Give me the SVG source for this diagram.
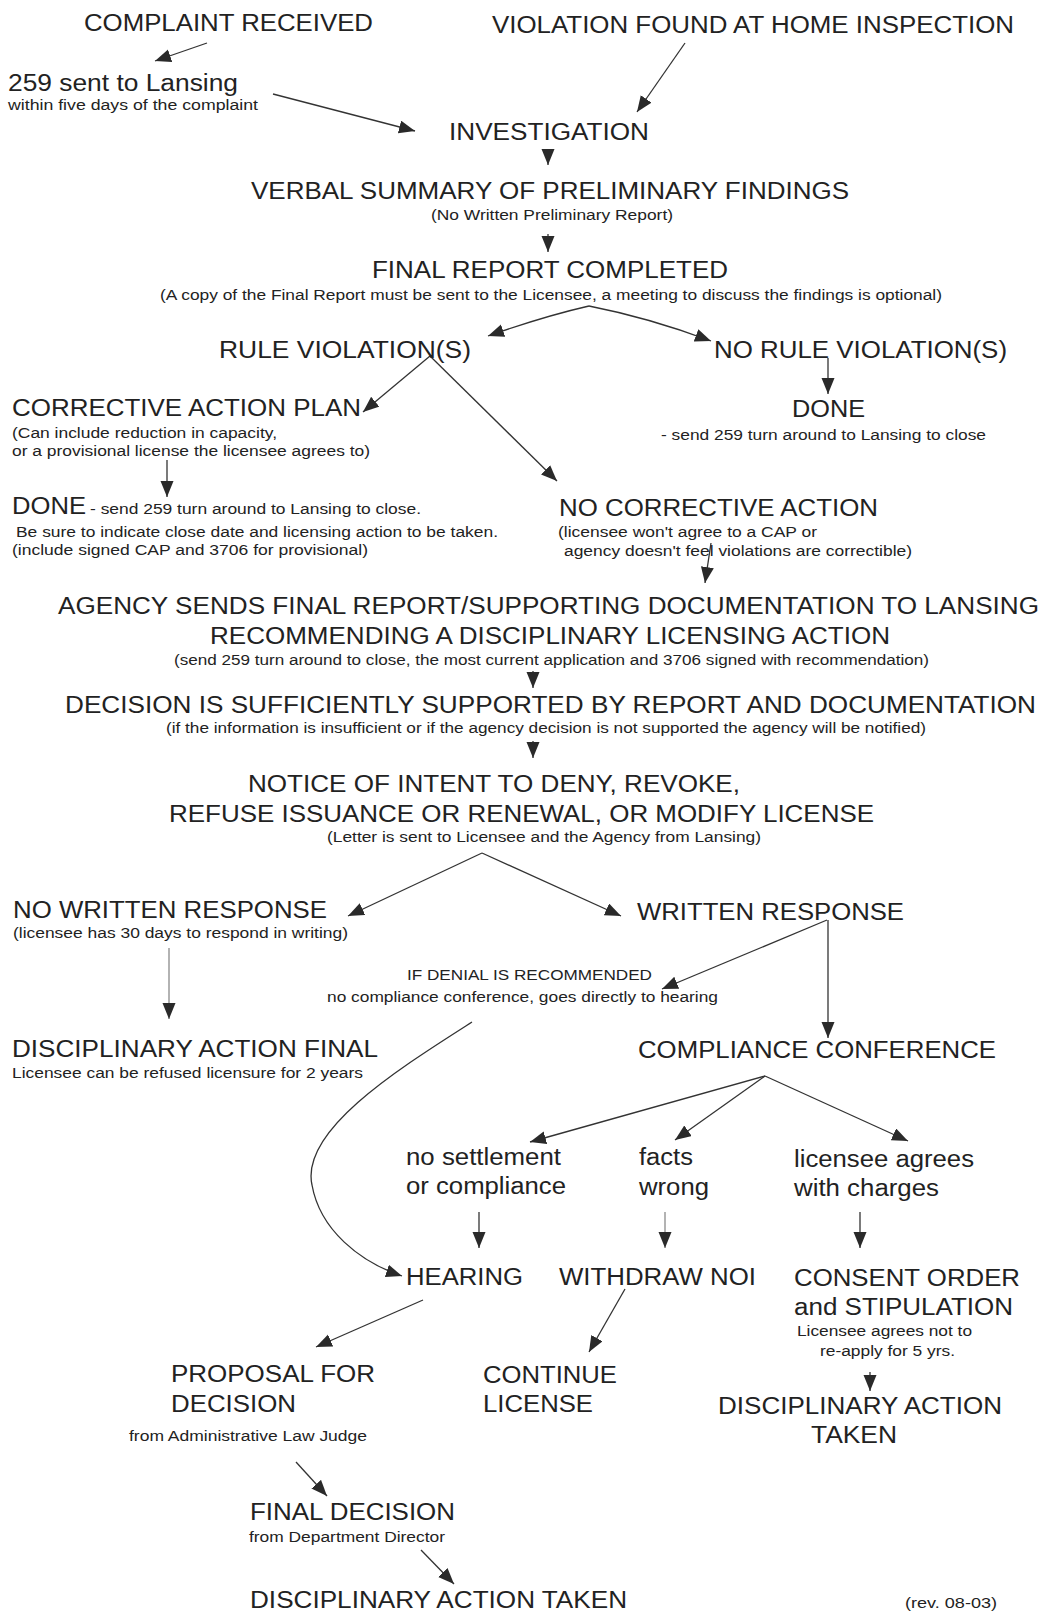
<svg xmlns="http://www.w3.org/2000/svg" width="1044" height="1613" viewBox="0 0 1044 1613">
<style>
text{font-family:"Liberation Sans",Arial,Helvetica,sans-serif;fill:#222}
.h{font-size:23.5px}
.s{font-size:15.5px}
.xs{font-size:14px}
.c line,.c path{stroke:#333;stroke-width:1.3;fill:none}
.c .g{stroke:#8a8a8a}
</style>
<defs>
<marker id="ah" markerUnits="userSpaceOnUse" markerWidth="18" markerHeight="14" refX="16" refY="6.5" orient="auto"><path d="M0,0 L16,6.5 L0,13 z" fill="#2a2a2a"/></marker>
</defs>
<rect width="1044" height="1613" fill="#fff"/>
<g class="c" id="connectors">
<line x1="207" y1="43" x2="155" y2="61" marker-end="url(#ah)"/>
<line x1="273" y1="94" x2="415" y2="131" marker-end="url(#ah)"/>
<line x1="685" y1="43" x2="637" y2="112" marker-end="url(#ah)"/>
<line x1="548" y1="149" x2="548" y2="165" marker-end="url(#ah)"/>
<line x1="548" y1="234" x2="548" y2="252" marker-end="url(#ah)"/>
<path d="M589,306 Q545,316 488,336" marker-end="url(#ah)"/>
<path d="M589,306 Q650,318 711,341" marker-end="url(#ah)"/>
<line x1="430" y1="356" x2="363" y2="412" marker-end="url(#ah)"/>
<line x1="430" y1="356" x2="557" y2="481" marker-end="url(#ah)"/>
<line x1="828" y1="358" x2="828" y2="394" marker-end="url(#ah)"/>
<line x1="167" y1="460" x2="167" y2="497" marker-end="url(#ah)"/>
<line x1="711" y1="543" x2="705" y2="583" marker-end="url(#ah)"/>
<line x1="533" y1="671" x2="533" y2="688" marker-end="url(#ah)"/>
<line x1="533" y1="741" x2="533" y2="758" marker-end="url(#ah)"/>
<line x1="482" y1="853" x2="348" y2="916" marker-end="url(#ah)"/>
<line x1="482" y1="853" x2="621" y2="916" marker-end="url(#ah)"/>
<line class="g" x1="169" y1="948" x2="169" y2="1019" marker-end="url(#ah)"/>
<line x1="827" y1="920" x2="662" y2="989" marker-end="url(#ah)"/>
<line x1="828" y1="920" x2="828" y2="1038" marker-end="url(#ah)"/>
<path d="M472,1022 C400,1068 300,1130 312,1185 C320,1230 360,1262 402,1276" marker-end="url(#ah)"/>
<line x1="765" y1="1076" x2="530" y2="1142" marker-end="url(#ah)"/>
<line x1="765" y1="1076" x2="675" y2="1140" marker-end="url(#ah)"/>
<line x1="765" y1="1076" x2="908" y2="1141" marker-end="url(#ah)"/>
<line x1="479" y1="1212" x2="479" y2="1248" marker-end="url(#ah)"/>
<line class="g" x1="665" y1="1212" x2="665" y2="1248" marker-end="url(#ah)"/>
<line x1="860" y1="1212" x2="860" y2="1248" marker-end="url(#ah)"/>
<line x1="423" y1="1300" x2="316" y2="1347" marker-end="url(#ah)"/>
<line x1="625" y1="1289" x2="589" y2="1352" marker-end="url(#ah)"/>
<line x1="870" y1="1372" x2="870" y2="1391" marker-end="url(#ah)"/>
<line x1="296" y1="1462" x2="327" y2="1496" marker-end="url(#ah)"/>
<line x1="421" y1="1550" x2="454" y2="1584" marker-end="url(#ah)"/>
</g>
<g id="n-complaint"><text class="h" x="84" y="31" textLength="289" lengthAdjust="spacingAndGlyphs">COMPLAINT RECEIVED</text></g>
<g id="n-violation"><text class="h" x="492" y="33" textLength="522" lengthAdjust="spacingAndGlyphs">VIOLATION FOUND AT HOME INSPECTION</text></g>
<g id="n-259"><text class="h" x="8" y="91" textLength="230" lengthAdjust="spacingAndGlyphs">259 sent to Lansing</text><text class="xs" x="8" y="110" textLength="250" lengthAdjust="spacingAndGlyphs">within five days of the complaint</text></g>
<g id="n-investigation"><text class="h" x="449" y="140" textLength="200" lengthAdjust="spacingAndGlyphs">INVESTIGATION</text></g>
<g id="n-verbal"><text class="h" x="251" y="199" textLength="598" lengthAdjust="spacingAndGlyphs">VERBAL SUMMARY OF PRELIMINARY FINDINGS</text><text class="xs" x="431" y="220" textLength="242" lengthAdjust="spacingAndGlyphs">(No Written Preliminary Report)</text></g>
<g id="n-final-report"><text class="h" x="372" y="278" textLength="356" lengthAdjust="spacingAndGlyphs">FINAL REPORT COMPLETED</text><text class="xs" x="160" y="300" textLength="782" lengthAdjust="spacingAndGlyphs">(A copy of the Final Report must be sent to the Licensee, a meeting to discuss the findings is optional)</text></g>
<g id="n-rule"><text class="h" x="219" y="358" textLength="252" lengthAdjust="spacingAndGlyphs">RULE VIOLATION(S)</text></g>
<g id="n-norule"><text class="h" x="714" y="358" textLength="293" lengthAdjust="spacingAndGlyphs">NO RULE VIOLATION(S)</text></g>
<g id="n-done-right"><text class="h" x="792" y="417" textLength="73" lengthAdjust="spacingAndGlyphs">DONE</text><text class="s" x="661" y="440" textLength="325" lengthAdjust="spacingAndGlyphs">- send 259 turn around to Lansing to close</text></g>
<g id="n-cap"><text class="h" x="12" y="416" textLength="349" lengthAdjust="spacingAndGlyphs">CORRECTIVE ACTION PLAN</text><text class="s" x="12" y="438" textLength="265" lengthAdjust="spacingAndGlyphs">(Can include reduction in capacity,</text><text class="s" x="12" y="456" textLength="358" lengthAdjust="spacingAndGlyphs">or a provisional license the licensee agrees to)</text></g>
<g id="n-done-left"><text class="h" x="12" y="514" textLength="74" lengthAdjust="spacingAndGlyphs">DONE</text><text class="s" x="90" y="514" textLength="331" lengthAdjust="spacingAndGlyphs">- send 259 turn around to Lansing to close.</text><text class="s" x="16" y="537" textLength="482" lengthAdjust="spacingAndGlyphs">Be sure to indicate close date and licensing action to be taken.</text><text class="s" x="12" y="555" textLength="356" lengthAdjust="spacingAndGlyphs">(include signed CAP and 3706 for provisional)</text></g>
<g id="n-nocap"><text class="h" x="559" y="516" textLength="319" lengthAdjust="spacingAndGlyphs">NO CORRECTIVE ACTION</text><text class="s" x="558" y="537" textLength="259" lengthAdjust="spacingAndGlyphs">(licensee won't agree to a CAP or</text><text class="s" x="564" y="556" textLength="348" lengthAdjust="spacingAndGlyphs">agency doesn't feel violations are correctible)</text></g>
<g id="n-agency"><text class="h" x="58" y="614" textLength="981" lengthAdjust="spacingAndGlyphs">AGENCY SENDS FINAL REPORT/SUPPORTING DOCUMENTATION TO LANSING</text><text class="h" x="210" y="644" textLength="680" lengthAdjust="spacingAndGlyphs">RECOMMENDING A DISCIPLINARY LICENSING ACTION</text><text class="xs" x="174" y="665" textLength="755" lengthAdjust="spacingAndGlyphs">(send 259 turn around to close, the most current application and 3706 signed with recommendation)</text></g>
<g id="n-decision"><text class="h" x="65" y="713" textLength="971" lengthAdjust="spacingAndGlyphs">DECISION IS SUFFICIENTLY SUPPORTED BY REPORT AND DOCUMENTATION</text><text class="xs" x="166" y="733" textLength="760" lengthAdjust="spacingAndGlyphs">(if the information is insufficient or if the agency decision is not supported the agency will be notified)</text></g>
<g id="n-notice"><text class="h" x="248" y="792" textLength="492" lengthAdjust="spacingAndGlyphs">NOTICE OF INTENT TO DENY, REVOKE,</text><text class="h" x="169" y="822" textLength="705" lengthAdjust="spacingAndGlyphs">REFUSE ISSUANCE OR RENEWAL, OR MODIFY LICENSE</text><text class="xs" x="327" y="842" textLength="434" lengthAdjust="spacingAndGlyphs">(Letter is sent to Licensee and the Agency from Lansing)</text></g>
<g id="n-nowritten"><text class="h" x="13" y="918" textLength="314" lengthAdjust="spacingAndGlyphs">NO WRITTEN RESPONSE</text><text class="s" x="13" y="938" textLength="335" lengthAdjust="spacingAndGlyphs">(licensee has 30 days to respond in writing)</text></g>
<g id="n-written"><text class="h" x="637" y="920" textLength="267" lengthAdjust="spacingAndGlyphs">WRITTEN RESPONSE</text></g>
<g id="n-denial"><text class="xs" x="407" y="980" textLength="245" lengthAdjust="spacingAndGlyphs">IF DENIAL IS RECOMMENDED</text><text class="xs" x="327" y="1002" textLength="391" lengthAdjust="spacingAndGlyphs">no compliance conference, goes directly to hearing</text></g>
<g id="n-action-final"><text class="h" x="12" y="1057" textLength="366" lengthAdjust="spacingAndGlyphs">DISCIPLINARY ACTION FINAL</text><text class="s" x="12" y="1078" textLength="351" lengthAdjust="spacingAndGlyphs">Licensee can be refused licensure for 2 years</text></g>
<g id="n-compliance"><text class="h" x="638" y="1058" textLength="358" lengthAdjust="spacingAndGlyphs">COMPLIANCE CONFERENCE</text></g>
<g id="n-nosettlement"><text class="h" x="406" y="1165" textLength="155" lengthAdjust="spacingAndGlyphs">no settlement</text><text class="h" x="406" y="1194" textLength="160" lengthAdjust="spacingAndGlyphs">or compliance</text></g>
<g id="n-facts"><text class="h" x="639" y="1165" textLength="54" lengthAdjust="spacingAndGlyphs">facts</text><text class="h" x="639" y="1195" textLength="70" lengthAdjust="spacingAndGlyphs">wrong</text></g>
<g id="n-agrees"><text class="h" x="794" y="1167" textLength="180" lengthAdjust="spacingAndGlyphs">licensee agrees</text><text class="h" x="794" y="1196" textLength="145" lengthAdjust="spacingAndGlyphs">with charges</text></g>
<g id="n-hearing"><text class="h" x="406" y="1285" textLength="117" lengthAdjust="spacingAndGlyphs">HEARING</text></g>
<g id="n-withdraw"><text class="h" x="559" y="1285" textLength="197" lengthAdjust="spacingAndGlyphs">WITHDRAW NOI</text></g>
<g id="n-consent"><text class="h" x="794" y="1286" textLength="226" lengthAdjust="spacingAndGlyphs">CONSENT ORDER</text><text class="h" x="794" y="1315" textLength="219" lengthAdjust="spacingAndGlyphs">and STIPULATION</text><text class="xs" x="797" y="1336" textLength="175" lengthAdjust="spacingAndGlyphs">Licensee agrees not to</text><text class="xs" x="820" y="1356" textLength="135" lengthAdjust="spacingAndGlyphs">re-apply for 5 yrs.</text></g>
<g id="n-proposal"><text class="h" x="171" y="1382" textLength="204" lengthAdjust="spacingAndGlyphs">PROPOSAL FOR</text><text class="h" x="171" y="1412" textLength="125" lengthAdjust="spacingAndGlyphs">DECISION</text><text class="xs" x="129" y="1441" textLength="238" lengthAdjust="spacingAndGlyphs">from Administrative Law Judge</text></g>
<g id="n-continue"><text class="h" x="483" y="1383" textLength="134" lengthAdjust="spacingAndGlyphs">CONTINUE</text><text class="h" x="483" y="1412" textLength="110" lengthAdjust="spacingAndGlyphs">LICENSE</text></g>
<g id="n-action-taken-right"><text class="h" x="718" y="1414" textLength="284" lengthAdjust="spacingAndGlyphs">DISCIPLINARY ACTION</text><text class="h" x="811" y="1443" textLength="86" lengthAdjust="spacingAndGlyphs">TAKEN</text></g>
<g id="n-final-decision"><text class="h" x="250" y="1520" textLength="205" lengthAdjust="spacingAndGlyphs">FINAL DECISION</text><text class="xs" x="249" y="1542" textLength="196" lengthAdjust="spacingAndGlyphs">from Department Director</text></g>
<g id="n-action-taken"><text class="h" x="250" y="1608" textLength="377" lengthAdjust="spacingAndGlyphs">DISCIPLINARY ACTION TAKEN</text></g>
<g id="n-rev"><text class="xs" x="905" y="1608" textLength="92" lengthAdjust="spacingAndGlyphs">(rev. 08-03)</text></g>
</svg>
